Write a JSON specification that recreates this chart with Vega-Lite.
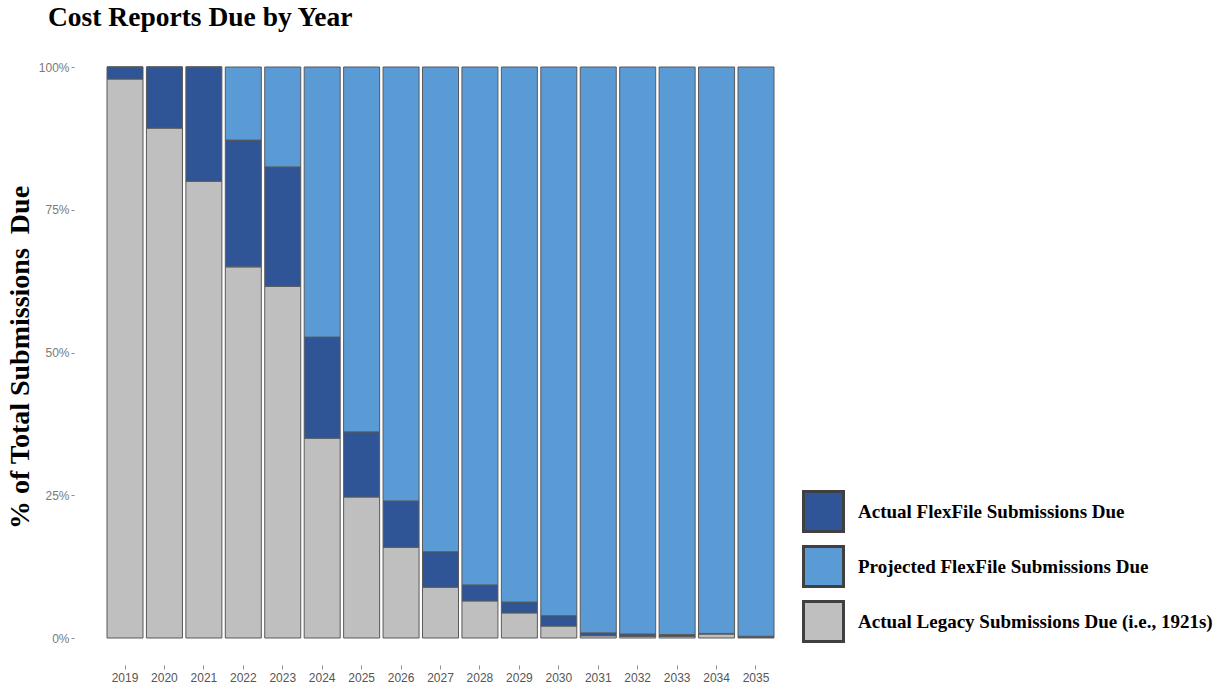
{
  "$schema": "https://vega.github.io/schema/vega-lite/v6.json",
  "autosize": "none",
  "width": 667,
  "height": 571,
  "padding": {"left": 107, "top": 67, "right": 451, "bottom": 51},
  "background": "white",
  "title": {
    "text": "Cost Reports Due by Year",
    "anchor": "start",
    "frame": "group",
    "orient": "top",
    "dx": -59,
    "offset": 8,
    "baseline": "alphabetic",
    "font": "Liberation Serif",
    "fontSize": 27.5,
    "fontWeight": "bold",
    "color": "black"
  },
  "data": {
    "values": [
      {"year": "2019", "series": "Actual Legacy Submissions Due (i.e., 1921s)", "pct": 97.9},
      {"year": "2019", "series": "Actual FlexFile Submissions Due", "pct": 2.1},
      {"year": "2019", "series": "Projected FlexFile Submissions Due", "pct": 0},
      {"year": "2020", "series": "Actual Legacy Submissions Due (i.e., 1921s)", "pct": 89.3},
      {"year": "2020", "series": "Actual FlexFile Submissions Due", "pct": 10.7},
      {"year": "2020", "series": "Projected FlexFile Submissions Due", "pct": 0},
      {"year": "2021", "series": "Actual Legacy Submissions Due (i.e., 1921s)", "pct": 80.0},
      {"year": "2021", "series": "Actual FlexFile Submissions Due", "pct": 20.0},
      {"year": "2021", "series": "Projected FlexFile Submissions Due", "pct": 0},
      {"year": "2022", "series": "Actual Legacy Submissions Due (i.e., 1921s)", "pct": 65.0},
      {"year": "2022", "series": "Actual FlexFile Submissions Due", "pct": 22.2},
      {"year": "2022", "series": "Projected FlexFile Submissions Due", "pct": 12.8},
      {"year": "2023", "series": "Actual Legacy Submissions Due (i.e., 1921s)", "pct": 61.6},
      {"year": "2023", "series": "Actual FlexFile Submissions Due", "pct": 20.9},
      {"year": "2023", "series": "Projected FlexFile Submissions Due", "pct": 17.5},
      {"year": "2024", "series": "Actual Legacy Submissions Due (i.e., 1921s)", "pct": 35.0},
      {"year": "2024", "series": "Actual FlexFile Submissions Due", "pct": 17.7},
      {"year": "2024", "series": "Projected FlexFile Submissions Due", "pct": 47.3},
      {"year": "2025", "series": "Actual Legacy Submissions Due (i.e., 1921s)", "pct": 24.7},
      {"year": "2025", "series": "Actual FlexFile Submissions Due", "pct": 11.4},
      {"year": "2025", "series": "Projected FlexFile Submissions Due", "pct": 63.9},
      {"year": "2026", "series": "Actual Legacy Submissions Due (i.e., 1921s)", "pct": 15.9},
      {"year": "2026", "series": "Actual FlexFile Submissions Due", "pct": 8.1},
      {"year": "2026", "series": "Projected FlexFile Submissions Due", "pct": 76.0},
      {"year": "2027", "series": "Actual Legacy Submissions Due (i.e., 1921s)", "pct": 8.9},
      {"year": "2027", "series": "Actual FlexFile Submissions Due", "pct": 6.2},
      {"year": "2027", "series": "Projected FlexFile Submissions Due", "pct": 84.9},
      {"year": "2028", "series": "Actual Legacy Submissions Due (i.e., 1921s)", "pct": 6.5},
      {"year": "2028", "series": "Actual FlexFile Submissions Due", "pct": 2.8},
      {"year": "2028", "series": "Projected FlexFile Submissions Due", "pct": 90.7},
      {"year": "2029", "series": "Actual Legacy Submissions Due (i.e., 1921s)", "pct": 4.4},
      {"year": "2029", "series": "Actual FlexFile Submissions Due", "pct": 1.9},
      {"year": "2029", "series": "Projected FlexFile Submissions Due", "pct": 93.7},
      {"year": "2030", "series": "Actual Legacy Submissions Due (i.e., 1921s)", "pct": 2.1},
      {"year": "2030", "series": "Actual FlexFile Submissions Due", "pct": 1.8},
      {"year": "2030", "series": "Projected FlexFile Submissions Due", "pct": 96.1},
      {"year": "2031", "series": "Actual Legacy Submissions Due (i.e., 1921s)", "pct": 0.4},
      {"year": "2031", "series": "Actual FlexFile Submissions Due", "pct": 0.5},
      {"year": "2031", "series": "Projected FlexFile Submissions Due", "pct": 99.1},
      {"year": "2032", "series": "Actual Legacy Submissions Due (i.e., 1921s)", "pct": 0.3},
      {"year": "2032", "series": "Actual FlexFile Submissions Due", "pct": 0.4},
      {"year": "2032", "series": "Projected FlexFile Submissions Due", "pct": 99.3},
      {"year": "2033", "series": "Actual Legacy Submissions Due (i.e., 1921s)", "pct": 0.3},
      {"year": "2033", "series": "Actual FlexFile Submissions Due", "pct": 0.3},
      {"year": "2033", "series": "Projected FlexFile Submissions Due", "pct": 99.4},
      {"year": "2034", "series": "Actual Legacy Submissions Due (i.e., 1921s)", "pct": 0.7},
      {"year": "2034", "series": "Actual FlexFile Submissions Due", "pct": 0.1},
      {"year": "2034", "series": "Projected FlexFile Submissions Due", "pct": 99.2},
      {"year": "2035", "series": "Actual Legacy Submissions Due (i.e., 1921s)", "pct": 0.1},
      {"year": "2035", "series": "Actual FlexFile Submissions Due", "pct": 0.2},
      {"year": "2035", "series": "Projected FlexFile Submissions Due", "pct": 99.7}
    ]
  },
  "transform": [
    {
      "calculate": "indexof(['Actual Legacy Submissions Due (i.e., 1921s)', 'Actual FlexFile Submissions Due', 'Projected FlexFile Submissions Due'], datum.series)",
      "as": "stackRank"
    }
  ],
  "mark": {"type": "bar", "stroke": "#595959", "strokeWidth": 1},
  "encoding": {
    "x": {
      "field": "year",
      "type": "ordinal",
      "scale": {"paddingInner": 0.087, "paddingOuter": 0},
      "axis": {
        "title": null,
        "labelAngle": 0,
        "domain": false,
        "grid": false,
        "offset": 27,
        "tickSize": 4,
        "tickColor": "#8c8c8c",
        "labelPadding": 3,
        "labelFont": "Liberation Sans",
        "labelFontSize": 12,
        "labelColor": "#555555"
      }
    },
    "y": {
      "field": "pct",
      "type": "quantitative",
      "stack": "normalize",
      "scale": {"domain": [0, 1], "nice": false},
      "axis": {
        "values": [0, 0.25, 0.5, 0.75, 1],
        "format": ".0%",
        "domain": false,
        "grid": false,
        "offset": 33,
        "tickSize": 3,
        "tickColor": "#8c8c8c",
        "labelPadding": 2,
        "labelFont": "Liberation Sans",
        "labelFontSize": 12,
        "labelColor": "#7a7a7a",
        "title": "% of Total Submissions\u00a0 Due",
        "titleFont": "Liberation Serif",
        "titleFontSize": 28,
        "titleFontWeight": "bold",
        "titleColor": "black",
        "titleAngle": -90,
        "titleAlign": "center",
        "titleBaseline": "middle",
        "titleX": -54,
        "titleY": 290
      }
    },
    "color": {
      "field": "series",
      "type": "nominal",
      "scale": {
        "domain": ["Actual FlexFile Submissions Due", "Projected FlexFile Submissions Due", "Actual Legacy Submissions Due (i.e., 1921s)"],
        "range": ["#2F5597", "#5B9BD5", "#BFBFBF"]
      },
      "legend": {
        "title": null,
        "orient": "none",
        "legendX": 695,
        "legendY": 423,
        "symbolType": "square",
        "symbolSize": 1600,
        "symbolStrokeColor": "#404040",
        "symbolStrokeWidth": 3,
        "symbolOpacity": 1,
        "rowPadding": 2,
        "labelOffset": 13,
        "labelFont": "Liberation Serif",
        "labelFontSize": 19,
        "labelFontWeight": "bold",
        "labelColor": "black",
        "labelLimit": 400
      }
    },
    "order": {"field": "stackRank", "type": "quantitative"}
  },
  "config": {"view": {"stroke": null}}
}
